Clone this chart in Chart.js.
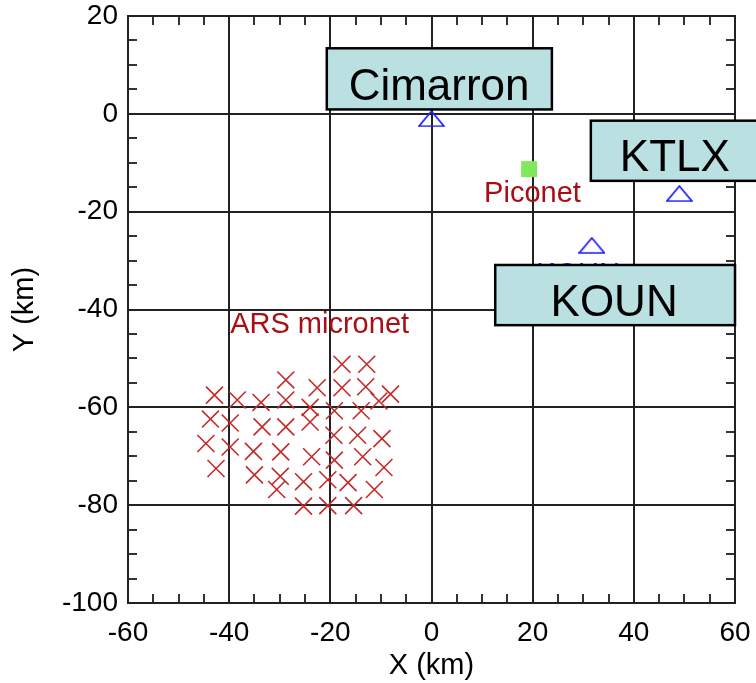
<!DOCTYPE html>
<html>
<head>
<meta charset="utf-8">
<title>Radar and micronet sites</title>
<script src="https://cdn.jsdelivr.net/npm/chart.js@4.4.1/dist/chart.umd.min.js"></script>
<style>
  html, body { margin: 0; padding: 0; background: #fff; }
  #wrap { width: 756px; height: 683px; }
</style>
</head>
<body>
<div id="wrap"><canvas id="sites"></canvas></div>
<script>
// ARS micronet stations (km)
var arsX = [-17.7, -12.8, -28.8, -42.9, -38.4, -33.7, -28.8, -22.6, -17.7, -13.0,
  -24.0, -10.4, -8.1, -19.2, -13.9, -43.7, -39.8, -33.5, -28.8, -24.0,
  -19.3, -14.6, -9.8, -44.6, -39.8, -35.2, -29.8, -23.7, -19.2, -13.6,
  -42.6, -35.0, -9.4, -29.9, -25.3, -20.5, -16.5, -30.6, -11.3, -25.3,
  -20.5, -15.4];
var arsY = [-51.2, -51.2, -54.4, -57.5, -58.5, -59.0, -58.5, -56.0, -56.0, -55.8,
  -60.0, -58.7, -57.3, -60.7, -60.7, -62.4, -63.2, -64.0, -64.0, -63.0,
  -65.7, -65.7, -66.4, -67.4, -68.1, -69.0, -69.1, -70.1, -70.8, -70.1,
  -72.5, -73.8, -72.3, -74.1, -75.2, -74.8, -75.4, -76.8, -76.8, -80.2,
  -80.1, -80.1];

// radars
var radarNames = ["Cimarron", "KTLX", "KOUN"];
var radarX = [0, 49.0, 31.7];
var radarY = [-1.0, -16.3, -26.9];

// piconet
var picoX = [19.3];
var picoY = [-11.3];

var xTicks = [-60, -40, -20, 0, 20, 40, 60];
var yTicks = [-100, -80, -60, -40, -20, 0, 20];

var FONT = "'Liberation Sans', Arial, sans-serif";

// triangle marker, wider than tall like the original
var tri = document.createElement("canvas");
tri.width = 27;
tri.height = 17;
(function () {
  var c = tri.getContext("2d");
  c.strokeStyle = "#1f1fff";
  c.lineWidth = 1.7;
  c.beginPath();
  c.moveTo(13.5, 1);
  c.lineTo(26, 16);
  c.lineTo(1, 16);
  c.closePath();
  c.stroke();
})();

function pts(xs, ys) {
  return xs.map(function (x, i) { return { x: x, y: ys[i] }; });
}

// text labels and boxed names (data units)
var plainLabels = [
  { text: "KOUN", x: 20.7, y: -34.6, color: "#2222ff" },
  { text: "Piconet", x: 10.4, y: -18.0, color: "#a80f14" },
  { text: "ARS micronet", x: -39.8, y: -44.8, color: "#a80f14" }
];
var boxLabels = [
  { text: "Cimarron", x0: -20.7, x1: 23.8, y0: 13.4, y1: 0.9, tx: 1.5, ty: 2.8 },
  { text: "KTLX", x0: 31.5, x1: 66, y0: -1.4, y1: -13.7, tx: 48.1, ty: -11.6 },
  { text: "KOUN", x0: 12.6, x1: 60.0, y0: -30.9, y1: -43.2, tx: 36.1, ty: -41.3 }
];

const frameAndTicks = {
  id: "frameAndTicks",
  beforeDatasetsDraw(chart) {
    const { ctx, chartArea: a, scales: { x, y } } = chart;
    ctx.save();
    ctx.strokeStyle = "#333";
    ctx.lineWidth = 2;
    ctx.beginPath();
    for (let v = -55; v < 60; v += 5) {
      if (v % 20 === 0) continue;
      const px = Math.round(x.getPixelForValue(v));
      ctx.moveTo(px, a.bottom); ctx.lineTo(px, a.bottom - 9);
      ctx.moveTo(px, a.top); ctx.lineTo(px, a.top + 9);
    }
    for (let v = -95; v < 20; v += 5) {
      if (v % 20 === 0) continue;
      const py = Math.round(y.getPixelForValue(v));
      ctx.moveTo(a.left, py); ctx.lineTo(a.left + 9, py);
      ctx.moveTo(a.right, py); ctx.lineTo(a.right - 9, py);
    }
    ctx.stroke();
    ctx.lineWidth = 2;
    ctx.strokeStyle = "#222";
    ctx.strokeRect(a.left, a.top, a.right - a.left, a.bottom - a.top);
    ctx.restore();
  },
  afterDatasetsDraw(chart) {
    const { ctx, scales: { x, y } } = chart;
    ctx.save();
    ctx.textBaseline = "alphabetic";
    ctx.font = "29px " + FONT;
    ctx.textAlign = "left";
    plainLabels.forEach(function (l) {
      ctx.fillStyle = l.color;
      ctx.fillText(l.text, x.getPixelForValue(l.x), y.getPixelForValue(l.y));
    });
    ctx.font = "44px " + FONT;
    ctx.textAlign = "center";
    boxLabels.forEach(function (b) {
      const l = x.getPixelForValue(b.x0), r = x.getPixelForValue(b.x1);
      const t = y.getPixelForValue(b.y0), btm = y.getPixelForValue(b.y1);
      ctx.fillStyle = "#bae0e2";
      ctx.fillRect(l, t, r - l, btm - t);
      ctx.lineWidth = 2.5;
      ctx.strokeStyle = "#000";
      ctx.strokeRect(l, t, r - l, btm - t);
      ctx.fillStyle = "#000";
      ctx.fillText(b.text, x.getPixelForValue(b.tx), y.getPixelForValue(b.ty));
    });
    ctx.restore();
  }
};

var ctx = document.getElementById("sites");
var myChart = new Chart(ctx, {
  type: "scatter",
  data: {
    datasets: [
      {
        label: "ARS micronet",
        data: pts(arsX, arsY),
        pointStyle: "crossRot",
        pointRadius: 12,
        borderColor: "#c42a2a",
        borderWidth: 1.6,
        backgroundColor: "#c42a2a"
      },
      {
        label: "Radars",
        data: pts(radarX, radarY),
        pointStyle: tri,
        pointRadius: 12
      },
      {
        label: "Piconet",
        data: pts(picoX, picoY),
        pointStyle: "rect",
        pointRadius: 11.3,
        borderWidth: 0,
        borderColor: "#7fe85c",
        backgroundColor: "#7fe85c"
      }
    ]
  },
  options: {
    responsive: true,
    maintainAspectRatio: false,
    animation: false,
    events: [],
    layout: { padding: { left: 0, right: 21, top: 16, bottom: 0 } },
    plugins: {
      legend: { display: false },
      tooltip: { enabled: false }
    },
    scales: {
      x: {
        type: "linear",
        min: -60,
        max: 60,
        afterBuildTicks(scale) { scale.ticks = xTicks.map(function (v) { return { value: v }; }); },
        afterFit(scale) { scale.height = 80; scale.paddingLeft = 0; scale.paddingRight = 0; },
        grid: { color: "#222", lineWidth: 2, drawTicks: false },
        border: { display: false },
        ticks: { color: "#000", font: { family: FONT, size: 28 }, padding: 13, maxRotation: 0 },
        title: { display: true, text: "X (km)", color: "#000", font: { family: FONT, size: 29 }, padding: { top: 0, bottom: 0 } }
      },
      y: {
        type: "linear",
        min: -100,
        max: 20,
        afterBuildTicks(scale) { scale.ticks = yTicks.map(function (v) { return { value: v }; }); },
        afterFit(scale) { scale.width = 128; scale.paddingTop = 0; scale.paddingBottom = 0; },
        grid: { color: "#222", lineWidth: 2, drawTicks: false },
        border: { display: false },
        ticks: { color: "#000", font: { family: FONT, size: 28 }, padding: 10 },
        title: { display: true, text: "Y (km)", color: "#000", font: { family: FONT, size: 29 }, padding: { top: 8, bottom: 0 } }
      }
    }
  },
  plugins: [frameAndTicks]
});
</script>
</body>
</html>
